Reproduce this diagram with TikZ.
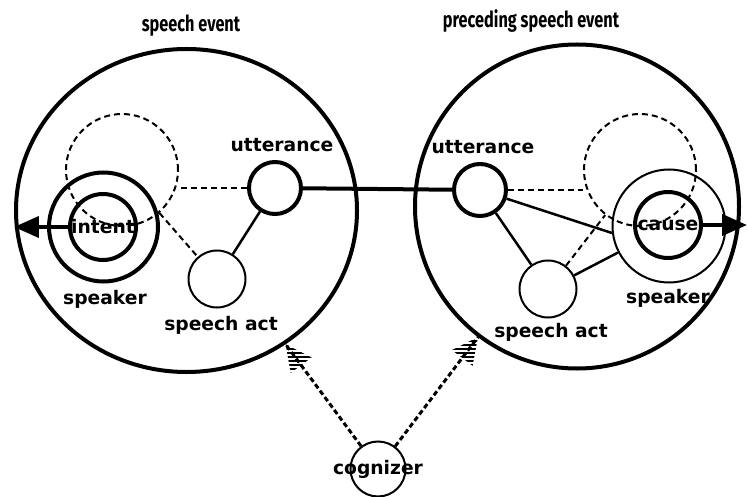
\documentclass[tikz,border=0pt]{standalone}
\usepackage{fontspec}
\setmainfont{DejaVu Sans}
\newfontfamily\titlefont[FakeStretch=0.74]{Fira Sans}
\usetikzlibrary{shapes.geometric,arrows.meta,decorations.markings,patterns.meta}

\begin{document}
\begin{tikzpicture}[x=1bp,y=-1bp,
  lab/.style={font=\fontsize{18.7bp}{20bp}\selectfont\bfseries,inner sep=0pt},
  ttl/.style={font=\titlefont\fontsize{22bp}{24bp}\selectfont\bfseries,inner sep=0pt},
  ring/.style={circle,draw,inner sep=0pt,line width=#1},
  loopc/.style={circle,draw,inner sep=0pt,line width=2bp,dash pattern=on 6bp off 4bp,minimum size=112bp},
  link/.style={line width=2.5bp},
  dlink/.style={line width=2bp,dash pattern=on 6bp off 4bp},
  bigarrow/.style={line width=4bp,-{Triangle[length=25bp,width=21bp]}},
  cogarrow/.style={line width=3bp,dash pattern=on 5bp off 3bp,postaction={decorate},
    decoration={markings,mark=at position 1 with {\fill[pattern={Lines[angle=0,distance=4bp,line width=2.5bp]}]
      (0,0) -- (-26bp,13bp) -- (-26bp,-13bp) -- cycle;}}}]
\useasboundingbox (0,0) rectangle (748,497);

% the two speech events
\node[draw,ellipse,line width=4bp,minimum width=341bp,minimum height=323bp,inner sep=0pt] (lev) at (186.5,210.5) {};
\node[ring=4bp,minimum size=324bp] (rev) at (577,206.5) {};
\node[ttl] (levlab) at (191,26) {speech event};
\node[ttl] (revlab) at (531,21) {preceding speech event};

% left event
\node[loopc] (lloop) at (122,170) {};
\node[ring=4bp,minimum size=109bp] (lspk) at (103.5,227) {};
\node[ring=4bp,minimum size=66bp] (lint) at (103,227) {};
\node[lab] (tint) at (lint) {intent};
\node[lab] (lspklab) at (105,299) {speaker};
\node[ring=4bp,minimum size=52bp] (lutt) at (275,188) {};
\node[lab] (luttlab) at (282,145) {utterance};
\node[ring=2bp,minimum size=57bp] (lsact) at (217,279) {};
\node[lab] (lsactlab) at (221,325) {speech act};

% right event
\node[loopc] (rloop) at (640,170) {};
\node[ring=2bp,minimum size=113bp] (rspk) at (669,226) {};
\node[ring=4bp,minimum size=66bp] (rcau) at (668,225) {};
\node[lab] (tcau) at (rcau) {cause};
\node[lab] (rspklab) at (668,298) {speaker};
\node[ring=4bp,minimum size=52bp] (rutt) at (480,190) {};
\node[lab] (ruttlab) at (483,147) {utterance};
\node[ring=2bp,minimum size=57bp] (rsact) at (548,289) {};
\node[lab] (rsactlab) at (551,332) {speech act};

% cognizer
\node[ring=2bp,minimum size=55bp] (cog) at (378,469) {};
\node[lab] (coglab) at (cog) {cognizer};

% links
\draw[line width=4bp] (lutt) -- (rutt);
\draw[link] (lutt) -- (lsact);
\draw[dlink] (lutt.west) -- (lutt.west -| lloop.east);
\draw[dlink] (lloop) -- (lsact);
\draw[bigarrow] (lint.west) -- (lint.west -| lev.west);

\draw[link] (rutt) -- (rsact);
\draw[link] (rutt) -- (rspk.187);
\draw[link] (rsact) -- (rspk);
\draw[dlink] (rutt.east) -- (rutt.east -| rloop.west);
\draw[dlink] (rsact) -- (rloop);
\draw[bigarrow,shorten >=-6bp] (rcau.east) -- (rcau.east -| rev.east);

\draw[cogarrow] (cog) -- (lev);
\draw[cogarrow] (cog) -- (rev);
\end{tikzpicture}
\end{document}
